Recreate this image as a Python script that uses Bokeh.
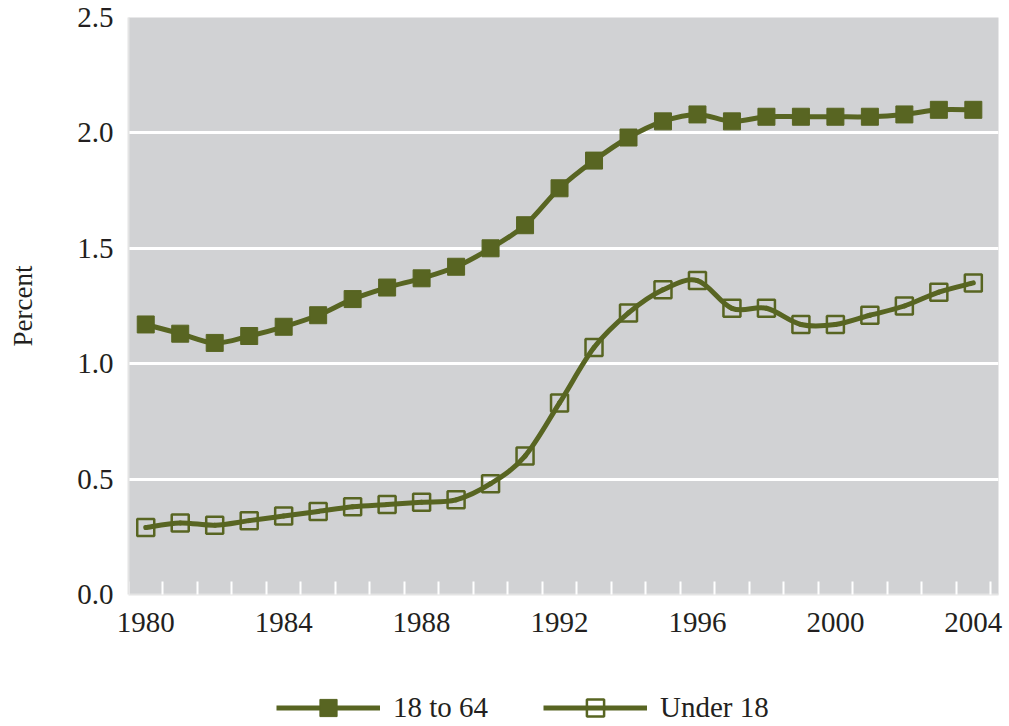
from bokeh.plotting import figure
from bokeh.layouts import column
from bokeh.models import (LinearAxis, FixedTicker, PrintfTickFormatter, Range1d,
                          Legend, LegendItem, ColumnDataSource)
from bokeh.embed import file_html
from bokeh.resources import INLINE

years = list(range(1980, 2005))
age_18_to_64 = [1.17, 1.13, 1.09, 1.12, 1.16, 1.21, 1.28, 1.33, 1.37, 1.42,
                1.50, 1.60, 1.76, 1.88, 1.98, 2.05, 2.08, 2.05, 2.07, 2.07,
                2.07, 2.07, 2.08, 2.10, 2.10]
under_18 = [0.29, 0.31, 0.30, 0.32, 0.34, 0.36, 0.38, 0.39, 0.40, 0.41,
            0.48, 0.60, 0.83, 1.07, 1.22, 1.32, 1.36, 1.24, 1.24, 1.17,
            1.17, 1.21, 1.25, 1.31, 1.35]
y_ticks = [0.0, 0.5, 1.0, 1.5, 2.0, 2.5]
x_label_ticks = [1980, 1984, 1988, 1992, 1996, 2000, 2004]
series_names = ["18 to 64", "Under 18"]

OLIVE = "#586522"
TEXT = "#231f20"
FONT = "Liberation Serif"


def smooth_segments(xs, ys):
    """Cubic Bezier segments through the data points (Catmull-Rom style smoothing)."""
    n = len(xs)
    d = dict(x0=[], y0=[], x1=[], y1=[], cx0=[], cy0=[], cx1=[], cy1=[])
    for i in range(n - 1):
        xp, yp = (xs[i - 1], ys[i - 1]) if i > 0 else (xs[i], ys[i])
        xn, yn = (xs[i + 2], ys[i + 2]) if i + 2 < n else (xs[i + 1], ys[i + 1])
        d["x0"].append(xs[i]); d["y0"].append(ys[i])
        d["x1"].append(xs[i + 1]); d["y1"].append(ys[i + 1])
        d["cx0"].append(xs[i] + (xs[i + 1] - xp) / 6.0)
        d["cy0"].append(ys[i] + (ys[i + 1] - yp) / 6.0)
        d["cx1"].append(xs[i + 1] - (xn - xs[i]) / 6.0)
        d["cy1"].append(ys[i + 1] - (yn - ys[i]) / 6.0)
    return ColumnDataSource(d)


src = ColumnDataSource(dict(x=years, a=age_18_to_64, u=under_18))

p = figure(width=1009, height=680, output_backend="svg", toolbar_location=None,
           x_range=Range1d(1979.5, 2004.73), y_range=Range1d(0, 2.5),
           x_axis_location=None, y_axis_location=None,
           min_border_left=128, min_border_right=11, min_border_top=17,
           min_border_bottom=86)
p.background_fill_color = "#d1d2d4"
p.border_fill_color = "white"
p.outline_line_color = None
p.xgrid.visible = False
p.ygrid.ticker = FixedTicker(ticks=y_ticks)
p.ygrid.grid_line_color = "white"
p.ygrid.grid_line_width = 3

# y axis
yax = LinearAxis(ticker=FixedTicker(ticks=y_ticks), formatter=PrintfTickFormatter(format="%.1f"))
yax.axis_line_color = "#e4e4e4"
yax.axis_line_width = 2
yax.major_tick_line_color = None
yax.minor_tick_line_color = None
yax.major_label_text_font = FONT
yax.major_label_text_font_size = "29px"
yax.major_label_text_color = TEXT
yax.major_label_standoff = 9
yax.axis_label = "Percent"
yax.axis_label_text_font = FONT
yax.axis_label_text_font_size = "27px"
yax.axis_label_text_font_style = "normal"
yax.axis_label_text_color = TEXT
yax.axis_label_standoff = 36
p.add_layout(yax, "left")

# x axis: tick marks between categories
boundaries = [y - 0.5 for y in years] + [years[-1] + 0.5]
xax1 = LinearAxis(ticker=FixedTicker(ticks=boundaries))
xax1.axis_line_color = "#e4e4e4"
xax1.axis_line_width = 2
xax1.major_tick_in = 13
xax1.major_tick_out = 0
xax1.major_tick_line_color = "white"
xax1.major_tick_line_width = 2
xax1.minor_tick_line_color = None
xax1.major_label_overrides = {b: "" for b in boundaries}
xax1.major_label_standoff = 0
p.add_layout(xax1, "below")

# x axis: labels
xax2 = LinearAxis(ticker=FixedTicker(ticks=x_label_ticks))
xax2.axis_line_color = None
xax2.major_tick_line_color = None
xax2.minor_tick_line_color = None
xax2.major_label_text_font = FONT
xax2.major_label_text_font_size = "29px"
xax2.major_label_text_color = TEXT
xax2.major_label_standoff = 12
p.add_layout(xax2, "below")

for series in (age_18_to_64, under_18):
    p.bezier(x0="x0", y0="y0", x1="x1", y1="y1", cx0="cx0", cy0="cy0",
             cx1="cx1", cy1="cy1", source=smooth_segments(years, series),
             line_color=OLIVE, line_width=5, line_cap="round")
p.scatter("x", "a", source=src, marker="square", size=17,
          fill_color=OLIVE, line_color=OLIVE, line_width=1)
p.scatter("x", "u", source=src, marker="square", size=17,
          fill_color=None, line_color=OLIVE, line_width=2.5)

# legend strip (its own figure, data drawn outside its view so only the legend shows)
p2 = figure(width=1009, height=46, output_backend="svg", toolbar_location=None,
            x_range=Range1d(0, 1), y_range=Range1d(100, 101),
            x_axis_location=None, y_axis_location=None,
            min_border_left=0, min_border_right=0, min_border_top=0, min_border_bottom=0)
p2.grid.visible = False
p2.outline_line_color = None
p2.background_fill_color = "white"
p2.border_fill_color = "white"
l1 = p2.line("x", "a", source=src, line_color=OLIVE, line_width=5)
s1 = p2.scatter("x", "a", source=src, marker="square", size=17,
                fill_color=OLIVE, line_color=OLIVE, line_width=1)
l2 = p2.line("x", "u", source=src, line_color=OLIVE, line_width=5)
s2 = p2.scatter("x", "u", source=src, marker="square", size=17,
                fill_color=None, line_color=OLIVE, line_width=2.5)

legend = Legend(items=[LegendItem(label=series_names[0], renderers=[l1, s1]),
                       LegendItem(label=series_names[1], renderers=[l2, s2])],
                location=(148, -3), orientation="horizontal")
legend.glyph_width = 104
legend.glyph_height = 43
legend.label_height = 43
legend.label_width = 150
legend.label_standoff = 13
legend.spacing = 0
legend.padding = 0
legend.margin = 0
legend.label_text_font = FONT
legend.label_text_font_size = "29px"
legend.label_text_color = TEXT
legend.background_fill_alpha = 0
legend.border_line_color = None
p2.add_layout(legend, "center")

layout = column(p, p2, spacing=0)
open("out.html", "w").write(file_html(layout, INLINE))
